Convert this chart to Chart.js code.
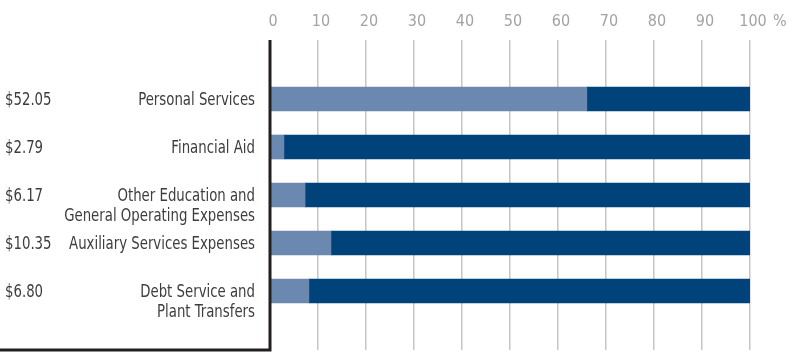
<!DOCTYPE html>
<html lang="en">
<head>
    <meta charset="UTF-8">
    <title>Expenditure Shares</title>
    <script src="https://cdn.jsdelivr.net/npm/chart.js"></script>
    <style>
        html, body { margin: 0; padding: 0; background: #fff; }
        #wrap { width: 794px; height: 352px; position: relative; }
    </style>
</head>
<body>
    <div id="wrap"><canvas id="shareChart"></canvas></div>
    <script>
    // data
    const categories = [
        ['Personal Services'],
        ['Financial Aid'],
        ['Other Education and', 'General Operating Expenses'],
        ['Auxiliary Services Expenses'],
        ['Debt Service and', 'Plant Transfers']
    ];
    const amounts = ['$52.05', '$2.79', '$6.17', '$10.35', '$6.80'];
    const lightShare = [66, 2.9, 7.3, 12.7, 8.1];   // percent, light segment
    const tickValues = [0, 10, 20, 30, 40, 50, 60, 70, 80, 90, 100];

    const FONT = "'Liberation Sans Narrow', 'DejaVu Sans Condensed', 'Roboto', sans-serif";
    const TEXT = '#3d3d3d';

    // narrow text: squeeze horizontally so it looks like a condensed face
    function narrowText(ctx, text, x, y, align) {
        ctx.save();
        ctx.translate(x, y);
        ctx.scale(0.87, 1);
        ctx.textAlign = align;
        ctx.fillText(text, 0, 0);
        ctx.restore();
    }

    // left panel: axis line, bottom rule, amounts and category names
    const sideLabels = {
        id: 'sideLabels',
        afterDatasetsDraw(chart) {
            const ctx = chart.ctx;
            const a = chart.chartArea;
            ctx.save();
            ctx.strokeStyle = '#231f20';
            ctx.lineWidth = 3;
            ctx.beginPath();
            ctx.moveTo(a.left, a.top);
            ctx.lineTo(a.left, a.bottom);
            ctx.lineTo(0, a.bottom);
            ctx.stroke();
            ctx.restore();
        },
        afterDraw(chart) {
            const ctx = chart.ctx;
            const y = chart.scales.y;
            const x = chart.scales.x;
            ctx.save();
            ctx.font = '17px ' + FONT;
            ctx.fillStyle = TEXT;
            ctx.textBaseline = 'middle';
            categories.forEach((lines, i) => {
                const py = y.getPixelForValue(i) + 2;
                narrowText(ctx, amounts[i], 5, py, 'left');
                lines.forEach((t, j) => narrowText(ctx, t, 255, py + j * 19.5, 'right'));
            });
            // percent sign after the last tick label
            ctx.font = '16px ' + FONT;
            ctx.fillStyle = '#a3a3a3';
            ctx.textAlign = 'left';
            ctx.fillText('%', x.getPixelForValue(100) + 23, 21.5);
            ctx.restore();
        }
    };

    const ctxShare = document.getElementById('shareChart').getContext('2d');
    window.shareChart = new Chart(ctxShare, {
        type: 'bar',
        data: {
            datasets: [{
                data: lightShare.map((v, i) => ({ x: v, y: i })),
                backgroundColor: '#6b88b0',
                barThickness: 24
            }, {
                data: lightShare.map((v, i) => ({ x: 100 - v, y: i })),
                backgroundColor: '#00437a',
                barThickness: 24
            }]
        },
        plugins: [sideLabels],
        options: {
            indexAxis: 'y',
            responsive: true,
            maintainAspectRatio: false,
            animation: false,
            events: [],
            layout: { padding: { left: 270, right: 44, bottom: 2, top: 0 } },
            plugins: { legend: { display: false }, tooltip: { enabled: false } },
            scales: {
                x: {
                    position: 'top',
                    stacked: true,
                    min: 0,
                    max: 100,
                    afterFit: s => { s.height = 40; },
                    afterBuildTicks: s => { s.ticks = tickValues.map(v => ({ value: v })); },
                    border: { display: false },
                    grid: {
                        drawTicks: false,
                        color: c => c.tick && c.tick.value === 0 ? 'rgba(0,0,0,0)' : '#c6c6c6',
                        lineWidth: 1.5
                    },
                    ticks: {
                        padding: 9,
                        labelOffset: 3,
                        color: '#a3a3a3',
                        font: { family: FONT, size: 16 }
                    }
                },
                y: {
                    type: 'linear',
                    reverse: true,
                    stacked: true,
                    offset: false,
                    bounds: 'data',
                    min: -1.229,
                    max: 5.229,
                    afterFit: s => { s.width = 0; },
                    ticks: { display: false },
                    grid: { display: false },
                    border: { display: false }
                }
            }
        }
    });
    </script>
</body>
</html>
